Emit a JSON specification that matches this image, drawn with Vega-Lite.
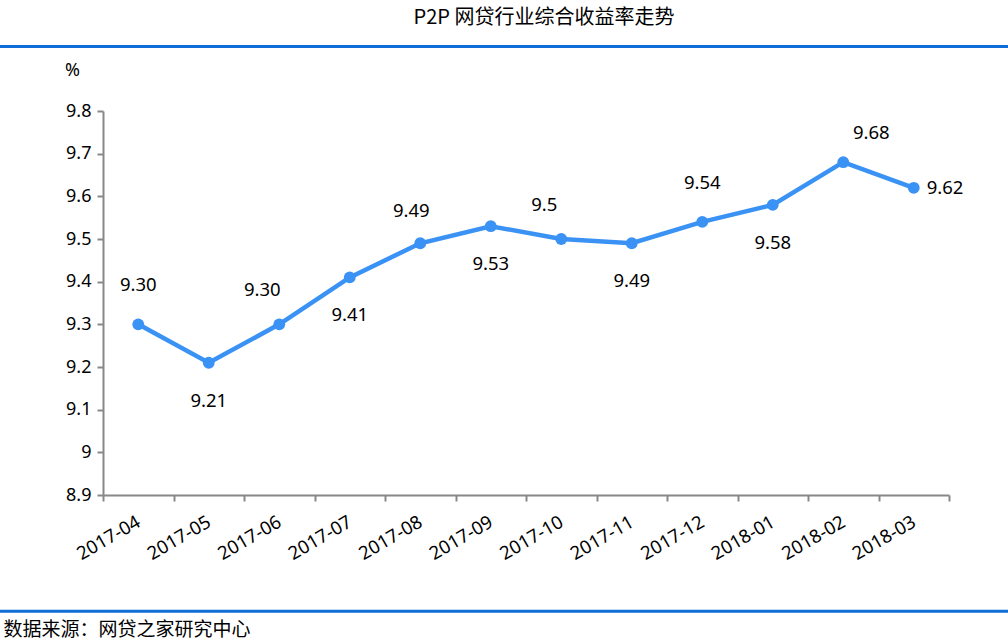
{
  "$schema": "https://vega.github.io/schema/vega-lite/v6.json",
  "width": 1008,
  "height": 384,
  "autosize": {"type": "none"},
  "padding": {"left": 0, "top": 111, "right": 0, "bottom": 149},
  "background": "white",
  "config": {"view": {"stroke": null}},
  "title": {
    "text": "P2P 网贷行业综合收益率走势",
    "font": "Noto Sans CJK SC",
    "fontSize": 20,
    "fontWeight": "normal",
    "color": "#000000",
    "anchor": "middle",
    "frame": "group",
    "dx": 40,
    "offset": 17
  },
  "data": {
    "values": [
      {"month": "2017-04", "rate": 9.30, "label": "9.30"},
      {"month": "2017-05", "rate": 9.21, "label": "9.21"},
      {"month": "2017-06", "rate": 9.30, "label": "9.30"},
      {"month": "2017-07", "rate": 9.41, "label": "9.41"},
      {"month": "2017-08", "rate": 9.49, "label": "9.49"},
      {"month": "2017-09", "rate": 9.53, "label": "9.53"},
      {"month": "2017-10", "rate": 9.50, "label": "9.5"},
      {"month": "2017-11", "rate": 9.49, "label": "9.49"},
      {"month": "2017-12", "rate": 9.54, "label": "9.54"},
      {"month": "2018-01", "rate": 9.58, "label": "9.58"},
      {"month": "2018-02", "rate": 9.68, "label": "9.68"},
      {"month": "2018-03", "rate": 9.62, "label": "9.62"}
    ]
  },
  "layer": [
    {
      "data": {"values": [{}]},
      "mark": {"type": "rule", "color": "#106CD6", "strokeWidth": 3},
      "encoding": {"y": {"datum": 9.9512, "type": "quantitative"}}
    },
    {
      "data": {"values": [{}]},
      "mark": {"type": "rule", "color": "#106CD6", "strokeWidth": 3},
      "encoding": {"y": {"datum": 8.6274, "type": "quantitative"}}
    },
    {
      "encoding": {
        "x": {
          "field": "month",
          "type": "nominal",
          "sort": null,
          "scale": {"type": "band", "range": [103, 949], "paddingInner": 0, "paddingOuter": 0},
          "axis": {
            "title": "数据来源：网贷之家研究中心",
            "titleFont": "Noto Sans CJK SC",
            "titleFontSize": 19,
            "titleFontWeight": "normal",
            "titleColor": "#000000",
            "titleX": 3,
            "titleY": 134,
            "titleAlign": "left",
            "titleAnchor": "start",
            "titleBaseline": "middle",
            "labelAngle": -30,
            "labelAlign": "right",
            "labelBaseline": "middle",
            "labelPadding": 19,
            "labelFont": "Noto Sans",
            "labelFontSize": 18.5,
            "labelColor": "#000000",
            "labelOverlap": false,
            "domainColor": "#888888",
            "domainWidth": 2,
            "tickColor": "#888888",
            "tickWidth": 2,
            "tickSize": 6,
            "tickBand": "extent",
            "grid": false
          }
        },
        "y": {
          "field": "rate",
          "type": "quantitative",
          "scale": {"domain": [8.9, 9.8], "nice": false, "zero": false},
          "axis": {
            "title": "%",
            "titleAngle": 0,
            "titleX": -31,
            "titleY": -41,
            "titleAlign": "center",
            "titleBaseline": "middle",
            "titleFont": "Noto Sans",
            "titleFontSize": 18,
            "titleFontWeight": "normal",
            "titleColor": "#000000",
            "offset": -103,
            "values": [8.9, 9.0, 9.1, 9.2, 9.3, 9.4, 9.5, 9.6, 9.7, 9.8],
            "format": ".1~f",
            "labelFont": "Noto Sans",
            "labelFontSize": 18,
            "labelColor": "#000000",
            "labelPadding": 6,
            "domainColor": "#888888",
            "domainWidth": 2,
            "tickColor": "#888888",
            "tickWidth": 2,
            "tickSize": 6,
            "grid": false
          }
        }
      },
      "layer": [
        {"mark": {"type": "line", "color": "#3A92F5", "strokeWidth": 4.5}},
        {"mark": {"type": "point", "filled": true, "opacity": 1, "size": 140, "color": "#3A92F5"}},
        {
          "transform": [{"filter": {"field": "month", "oneOf": ["2017-04", "2017-12"]}}],
          "mark": {"type": "text", "font": "Noto Sans", "fontSize": 18.5, "color": "#000000", "dy": -39, "align": "center", "baseline": "middle"},
          "encoding": {"text": {"field": "label"}}
        },
        {
          "transform": [{"filter": {"field": "month", "oneOf": ["2017-06", "2017-10"]}}],
          "mark": {"type": "text", "font": "Noto Sans", "fontSize": 18.5, "color": "#000000", "dx": -17, "dy": -34, "align": "center", "baseline": "middle"},
          "encoding": {"text": {"field": "label"}}
        },
        {
          "transform": [{"filter": {"field": "month", "oneOf": ["2017-08"]}}],
          "mark": {"type": "text", "font": "Noto Sans", "fontSize": 18.5, "color": "#000000", "dx": -9, "dy": -32, "align": "center", "baseline": "middle"},
          "encoding": {"text": {"field": "label"}}
        },
        {
          "transform": [{"filter": {"field": "month", "oneOf": ["2018-02"]}}],
          "mark": {"type": "text", "font": "Noto Sans", "fontSize": 18.5, "color": "#000000", "dx": 28, "dy": -29, "align": "center", "baseline": "middle"},
          "encoding": {"text": {"field": "label"}}
        },
        {
          "transform": [{"filter": {"field": "month", "oneOf": ["2017-05", "2017-07", "2017-09", "2017-11", "2018-01"]}}],
          "mark": {"type": "text", "font": "Noto Sans", "fontSize": 18.5, "color": "#000000", "dy": 38, "align": "center", "baseline": "middle"},
          "encoding": {"text": {"field": "label"}}
        },
        {
          "transform": [{"filter": {"field": "month", "oneOf": ["2018-03"]}}],
          "mark": {"type": "text", "font": "Noto Sans", "fontSize": 18.5, "color": "#000000", "dx": 13, "dy": 0, "align": "left", "baseline": "middle"},
          "encoding": {"text": {"field": "label"}}
        }
      ]
    }
  ]
}
